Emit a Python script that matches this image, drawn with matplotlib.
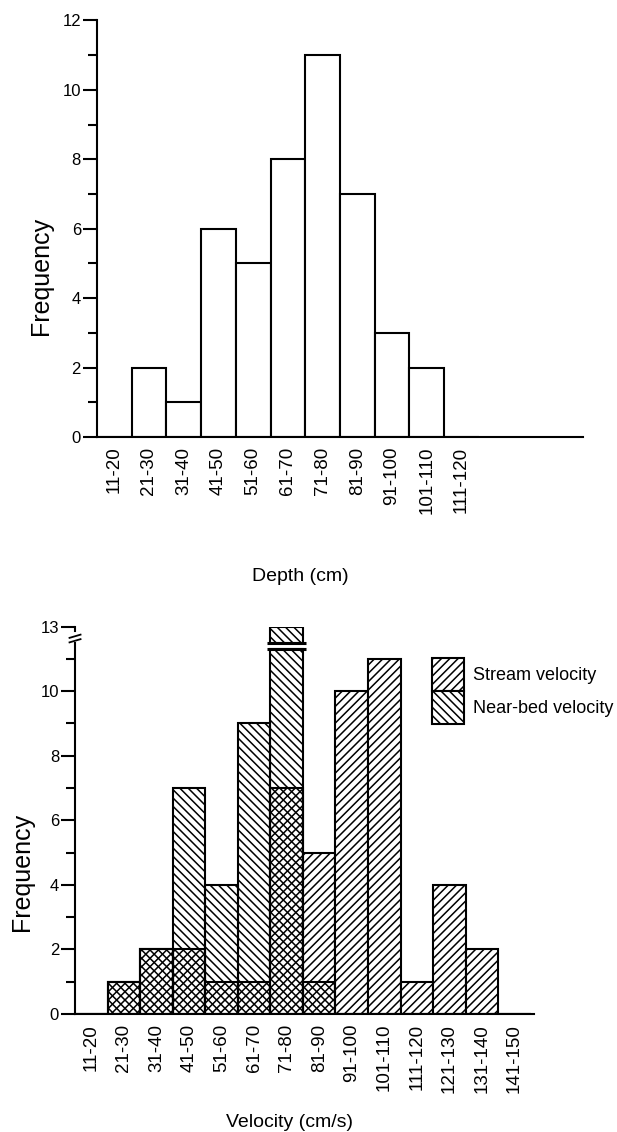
import numpy as np
import matplotlib
matplotlib.use("Agg")
import matplotlib.pyplot as plt
from matplotlib.patches import Patch

plt.rcParams['font.family'] = ['Liberation Sans', 'DejaVu Sans']
plt.rcParams['hatch.linewidth'] = 1.1

# --- data ---
depth_bins = ['11-20', '21-30', '31-40', '41-50', '51-60', '61-70',
              '71-80', '81-90', '91-100', '101-110', '111-120']
depth_freq = [0, 2, 1, 6, 5, 8, 11, 7, 3, 2, 0]

velocity_bins = ['11-20', '21-30', '31-40', '41-50', '51-60', '61-70', '71-80',
                 '81-90', '91-100', '101-110', '111-120', '121-130', '131-140', '141-150']
stream_freq = [0, 1, 2, 2, 1, 1, 7, 5, 10, 11, 1, 4, 2, 0]
nearbed_freq = [0, 1, 2, 7, 4, 9, 13, 1, 0, 0, 0, 0, 0, 0]

# axis break on the velocity chart (display units)
BREAK_LOW = 11.3
BREAK_HIGH = 11.5
BREAK_SHIFT = 1   # values above the break are drawn one unit lower

LW = 1.5
HATCH_STREAM = '////'
HATCH_NEAR = '\\\\\\\\'

fig = plt.figure(figsize=(6.17, 11.32), dpi=100)

# ----------------------------------------------------
# Depth histogram
# ----------------------------------------------------
ax1 = fig.add_axes([0.157, 0.614, 0.788, 0.368])
x1 = np.arange(len(depth_bins)) + 0.5
ax1.bar(x1, depth_freq, width=1.0, facecolor='white', edgecolor='black', linewidth=LW)
ax1.set_xlim(0, 14)
ax1.set_ylim(0, 12)
ax1.set_yticks(range(0, 13, 2))
ax1.set_yticks(range(1, 12, 2), minor=True)
ax1.set_xticks(x1, depth_bins, rotation=90)
ax1.set_xlabel('Depth (cm)', fontsize=14, va='center')
ax1.xaxis.set_label_coords(0.418, -0.336)
ax1.set_ylabel('Frequency', fontsize=18, va='center')
ax1.yaxis.set_label_coords(-0.115, 0.387)

# ----------------------------------------------------
# Velocity histogram (stream vs near-bed, overlaid)
# ----------------------------------------------------
ax2 = fig.add_axes([0.1216, 0.1042, 0.744, 0.3423])
x2 = np.arange(len(velocity_bins)) + 0.5
ax2.bar(x2, stream_freq, width=1.0, facecolor='white', edgecolor='black',
        hatch=HATCH_STREAM, linewidth=LW)

near = np.array(nearbed_freq, dtype=float)
broken = near > BREAK_HIGH + BREAK_SHIFT
shown = np.where(broken, BREAK_LOW, near)
ax2.bar(x2, shown, width=1.0, facecolor='none', edgecolor='black',
        hatch=HATCH_NEAR, linewidth=LW)
ax2.bar(x2[broken], near[broken] - BREAK_SHIFT - BREAK_HIGH, bottom=BREAK_HIGH,
        width=1.0, facecolor='white', edgecolor='black', hatch=HATCH_NEAR, linewidth=LW)
for y in (BREAK_LOW, BREAK_HIGH):
    ax2.hlines(y, x2[broken] - 0.6, x2[broken] + 0.6, color='black', linewidth=2.2)

ax2.set_xlim(0, 14.1)
ax2.set_ylim(0, 12)
ax2.set_yticks(range(0, 13, 2), ['0', '2', '4', '6', '8', '10', '13'])
ax2.set_yticks(range(1, 12, 2), minor=True)
ax2.set_xticks(x2, velocity_bins, rotation=90)
ax2.set_xlabel('Velocity (cm/s)', fontsize=14, va='center')
ax2.xaxis.set_label_coords(0.468, -0.279)
ax2.set_ylabel('Frequency', fontsize=18, va='center')
ax2.yaxis.set_label_coords(-0.115, 0.366)

# broken y axis
ax2.spines['left'].set_bounds(0, BREAK_HIGH)
tr = ax2.get_yaxis_transform()
ax2.plot([0, 0], [11.85, 12], transform=tr, color='black', linewidth=LW, clip_on=False)
for yb in (11.56, 11.7):
    ax2.plot([-0.012, 0.012], [yb - 0.05, yb + 0.05], transform=tr,
             color='black', linewidth=1.3, clip_on=False)

handles = [Patch(facecolor='white', edgecolor='black', hatch=HATCH_STREAM, linewidth=LW),
           Patch(facecolor='white', edgecolor='black', hatch=HATCH_NEAR, linewidth=LW)]
ax2.legend(handles, ['Stream velocity', 'Near-bed velocity'], loc='upper left',
           bbox_to_anchor=(0.778, 0.918), frameon=False, fontsize=13,
           handlelength=1.78, handleheight=2.44, handletextpad=0.5,
           labelspacing=0.0, borderpad=0.0, borderaxespad=0.0)

for ax in (ax1, ax2):
    for side in ('top', 'right'):
        ax.spines[side].set_visible(False)
    for side in ('left', 'bottom'):
        ax.spines[side].set_linewidth(LW)
    ax.tick_params(axis='y', which='major', length=10, width=LW, pad=1.5, labelsize=12)
    ax.tick_params(axis='y', which='minor', length=6.5, width=LW)
    ax.tick_params(axis='x', which='both', length=0, pad=7, labelsize=13.5)

fig.savefig('out.png', dpi=100)
